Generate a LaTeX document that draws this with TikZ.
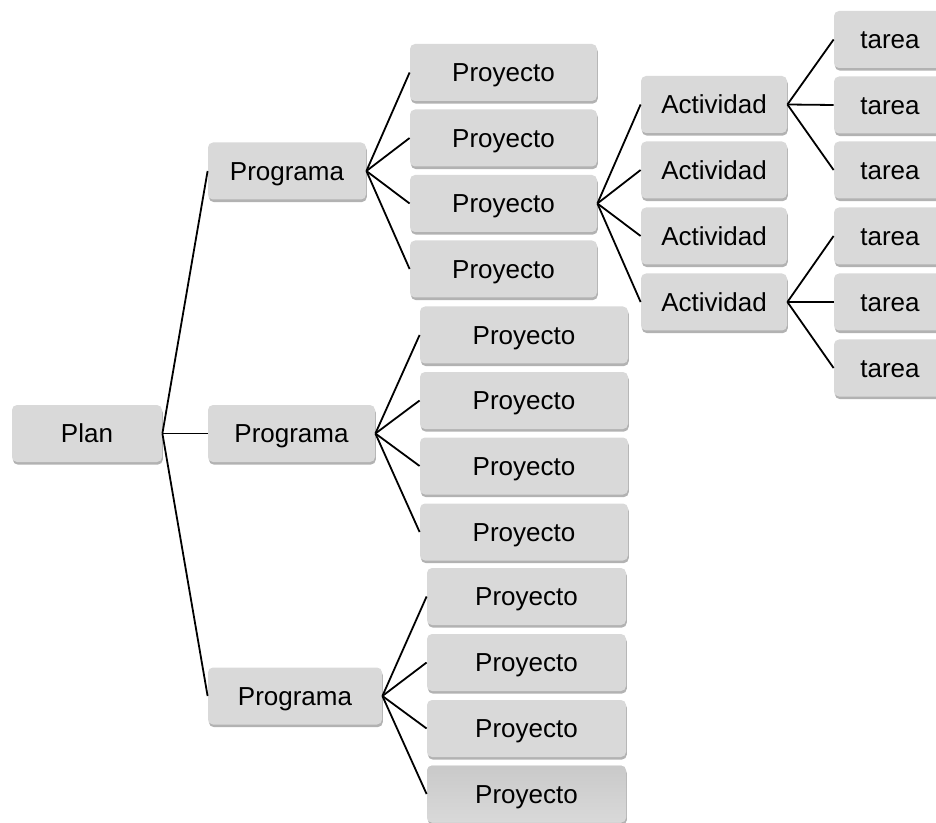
\documentclass[tikz,border=0pt]{standalone}
\usepackage{fontspec}
\setmainfont{Liberation Sans}
\usetikzlibrary{shadows}
\definecolor{boxfill}{HTML}{D9D9D9}
\tikzset{
  box/.style={draw=none, fill=boxfill, rounded corners=2.5pt, inner sep=0pt,
    minimum height=28.5pt, text height=9.3pt, text depth=0pt,
    font=\fontsize{13}{15}\selectfont,
    drop shadow={shadow xshift=0.4pt, shadow yshift=-1.3pt, fill=black, opacity=0.3}},
  bw/.style={minimum width=#1*0.5pt},
  link/.style={draw=black, line width=0.9pt}
}
\begin{document}
\begin{tikzpicture}[x=0.5pt, y=-0.5pt]
\useasboundingbox (0,0) rectangle (936,823);
\clip (0,0) rectangle (936,823);
% level 0
\node[box, bw=150] (plan) at (87,433.5) {Plan};
% level 1
\node[box, bw=158] (p1) at (287,171) {Programa};
\node[box, bw=167] (p2) at (291.5,433.5) {Programa};
\node[box, bw=174] (p3) at (295,696) {Programa};
% projects group 1
\node[box, bw=187] (a1) at (503.5,72.5) {Proyecto};
\node[box, bw=187] (a2) at (503.5,138) {Proyecto};
\node[box, bw=187] (a3) at (503.5,203.5) {Proyecto};
\node[box, bw=187] (a4) at (503.5,269) {Proyecto};
% projects group 2
\node[box, bw=208] (b1) at (524,335) {Proyecto};
\node[box, bw=208] (b2) at (524,400.5) {Proyecto};
\node[box, bw=208] (b3) at (524,466) {Proyecto};
\node[box, bw=208] (b4) at (524,532) {Proyecto};
% projects group 3
\node[box, bw=199] (c1) at (526.5,596.5) {Proyecto};
\node[box, bw=199] (c2) at (526.5,662.5) {Proyecto};
\node[box, bw=199] (c3) at (526.5,728.5) {Proyecto};
\node[box, bw=199, top color=black!21, bottom color=boxfill] (c4) at (526.5,794) {Proyecto};
% activities
\node[box, bw=146] (d1) at (714,104.5) {Actividad};
\node[box, bw=146] (d2) at (714,170) {Actividad};
\node[box, bw=146] (d3) at (714,236) {Actividad};
\node[box, bw=146] (d4) at (714,302) {Actividad};
% tasks
\node[box, bw=112] (t1) at (890,39.5) {tarea};
\node[box, bw=112] (t2) at (890,105) {tarea};
\node[box, bw=112] (t3) at (890,170) {tarea};
\node[box, bw=112] (t4) at (890,236) {tarea};
\node[box, bw=112] (t5) at (890,302) {tarea};
\node[box, bw=112] (t6) at (890,368) {tarea};
% connectors
\foreach \c in {p1,p2,p3} \draw[link] (plan.east) -- (\c.west);
\foreach \c in {a1,a2,a3,a4} \draw[link] (p1.east) -- (\c.west);
\foreach \c in {b1,b2,b3,b4} \draw[link] (p2.east) -- (\c.west);
\foreach \c in {c1,c2,c3,c4} \draw[link] (p3.east) -- (\c.west);
\foreach \c in {d1,d2,d3,d4} \draw[link] (a3.east) -- (\c.west);
\foreach \c in {t1,t2,t3} \draw[link] (d1.east) -- (\c.west);
\foreach \c in {t4,t5,t6} \draw[link] (d4.east) -- (\c.west);
\end{tikzpicture}
\end{document}
